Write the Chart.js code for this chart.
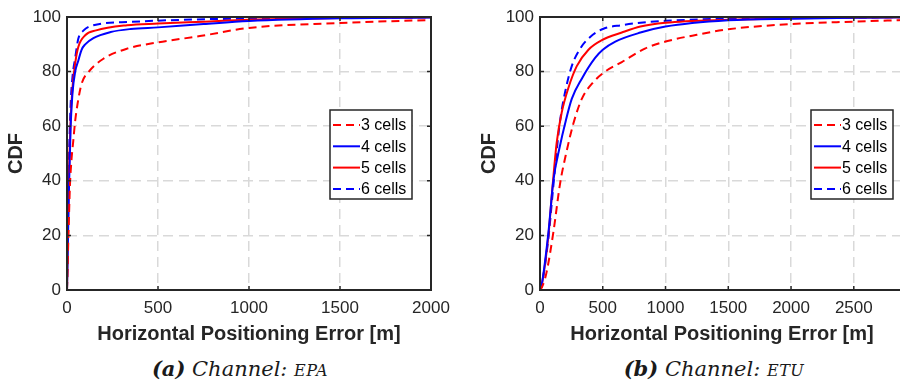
<!DOCTYPE html>
<html>
<head>
<meta charset="utf-8">
<script src="https://cdn.jsdelivr.net/npm/chart.js@4"></script>
<style>
  html, body { margin:0; padding:0; width:900px; height:383px; overflow:hidden; background:#fff; }
  canvas { position:absolute; top:0; }
  .cap { position:absolute; top:356px; font-family:"DejaVu Serif", "Liberation Serif", serif; font-style:italic; font-size:21px; color:#1a1a1a; white-space:nowrap; transform:translateX(-50%); }
  .cap b { font-weight:bold; }
  .cap .sc { font-size:16px; letter-spacing:0.5px; }
</style>
</head>
<body>
<canvas id="c1" width="450" height="350" style="left:0px"></canvas>
<canvas id="c2" width="450" height="350" style="left:473px"></canvas>
<div class="cap" style="left:240px"><b>(a)</b> Channel: <span class="sc">EPA</span></div>
<div class="cap" style="left:714px"><b>(b)</b> Channel: <span class="sc">ETU</span></div>
<script>
// ---- data ----
const seriesLabels = ['3 cells', '4 cells', '5 cells', '6 cells'];
const yTicks = [0, 20, 40, 60, 80, 100];
const xTicksEPA = [0, 500, 1000, 1500, 2000];
const xTicksETU = [0, 500, 1000, 1500, 2000, 2500];

// Channel EPA
const epa3X = [0, 8, 16, 25, 35, 45, 60, 80, 120, 200, 330, 500, 730, 1000, 1500, 2000];
const epa3Y = [0, 20, 38, 48, 55, 62, 69, 75.5, 80, 84.7, 88.4, 90.7, 93, 96, 97.8, 98.9];
const epa4X = [0, 10, 20, 30, 45, 62, 80, 100, 145, 240, 350, 500, 750, 1000, 1500, 2000];
const epa4Y = [0, 35, 60, 72, 80, 84, 88, 90, 92.3, 94.5, 95.6, 96.2, 97.4, 98.5, 99.5, 99.8];
const epa5X = [0, 10, 20, 30, 45, 62, 100, 160, 330, 500, 750, 1000, 1500, 2000];
const epa5Y = [0, 40, 62, 74, 83, 89, 93.3, 95.1, 97, 97.6, 98.3, 99, 99.6, 99.9];
const epa6X = [0, 10, 20, 30, 45, 62, 90, 145, 350, 700, 1000, 1500, 2000];
const epa6Y = [0, 45, 68, 78, 85, 92, 95, 97, 98.2, 99.1, 99.4, 99.7, 99.9];

// Channel ETU
const etu3X = [0, 15, 50, 106, 160, 213, 266, 333, 426, 519, 652, 840, 1000, 1250, 1500, 2000, 2500, 2900];
const etu3Y = [0, 1, 6, 21, 39, 51, 61, 70, 76.2, 80, 83.5, 88.5, 91, 93.5, 95.5, 97.4, 98.3, 98.9];
const etu4X = [0, 10, 67, 106, 160, 200, 253, 333, 439, 500, 600, 800, 1000, 1500, 2000, 2500, 2900];
const etu4Y = [0, 1, 21, 40, 53, 61, 70, 77.4, 85, 88, 91, 94.3, 96.5, 98.8, 99.4, 99.7, 99.9];
const etu5X = [0, 10, 67, 100, 133, 173, 226, 293, 386, 493, 652, 800, 1000, 1500, 2000, 2900];
const etu5Y = [0, 1, 20, 38, 54, 65, 74, 82, 88, 91.5, 94.3, 96.5, 97.9, 99, 99.5, 99.9];
const etu6X = [0, 10, 67, 100, 133, 160, 200, 253, 320, 400, 506, 652, 863, 1000, 1500, 2000, 2900];
const etu6Y = [0, 1, 19, 35, 51, 62, 72.5, 82, 88.4, 92.7, 95.7, 97, 98.2, 98.6, 99.4, 99.7, 99.9];

const xMaxEPA = 2000;
const xMaxETU = 2900;

// ---- styling ----
const RED = '#ff0000', BLUE = '#0000ff', AX = '#262626';
const styles = [
  { color: RED, dash: [8, 5] },
  { color: BLUE, dash: [] },
  { color: RED, dash: [] },
  { color: BLUE, dash: [8, 5] }
];
Chart.defaults.font.family = '"Liberation Sans", Arial, Helvetica, sans-serif';
Chart.defaults.color = AX;

function pts(xs, ys) { return xs.map((x, i) => ({ x: x, y: ys[i] })); }

function makeDatasets(list) {
  return list.map((d, i) => ({
    label: seriesLabels[i],
    data: pts(d[0], d[1]),
    borderColor: styles[i].color,
    backgroundColor: styles[i].color,
    borderDash: styles[i].dash,
    borderWidth: 2,
    pointRadius: 0,
    fill: false,
    cubicInterpolationMode: 'monotone'
  }));
}

const framePlugin = {
  id: 'frame',
  afterDatasetsDraw(chart, args, opts) {
    const { ctx, chartArea: a, scales } = chart;
    ctx.save();
    ctx.strokeStyle = AX;
    ctx.lineWidth = 1.5;
    ctx.setLineDash([]);
    const tl = 4;
    scales.x.ticks.forEach(t => {
      const px = scales.x.getPixelForValue(t.value);
      ctx.beginPath();
      ctx.moveTo(px, a.bottom); ctx.lineTo(px, a.bottom - tl);
      ctx.moveTo(px, a.top); ctx.lineTo(px, a.top + tl);
      ctx.stroke();
    });
    scales.y.ticks.forEach(t => {
      const py = scales.y.getPixelForValue(t.value);
      ctx.beginPath();
      ctx.moveTo(a.left, py); ctx.lineTo(a.left + tl, py);
      ctx.moveTo(a.right, py); ctx.lineTo(a.right - tl, py);
      ctx.stroke();
    });
    ctx.lineWidth = 2;
    ctx.strokeRect(a.left, a.top, a.right - a.left, a.bottom - a.top);

    // legend box
    const bw = 82, bh = 89;
    const bx = a.right - opts.rightGap - bw, by = opts.top;
    ctx.fillStyle = '#fff';
    ctx.fillRect(bx, by, bw, bh);
    ctx.lineWidth = 1.5;
    ctx.strokeRect(bx, by, bw, bh);
    ctx.font = '16px "Liberation Sans", Arial, sans-serif';
    ctx.textBaseline = 'middle';
    ctx.textAlign = 'left';
    chart.data.datasets.forEach((ds, i) => {
      const yy = by + 15 + i * 21.3;
      ctx.strokeStyle = ds.borderColor;
      ctx.lineWidth = 2;
      ctx.setLineDash(ds.borderDash);
      ctx.beginPath();
      ctx.moveTo(bx + 3, yy); ctx.lineTo(bx + 30, yy);
      ctx.stroke();
      ctx.setLineDash([]);
      ctx.fillStyle = '#000';
      ctx.fillText(ds.label, bx + 31, yy + 1);
    });
    ctx.restore();
  }
};

function makeChart(id, dsList, xTicks, xMax, legendGap) {
  return new Chart(document.getElementById(id), {
    type: 'line',
    data: { datasets: makeDatasets(dsList) },
    options: {
      responsive: false,
      animation: false,
      events: [],
      layout: { padding: { top: 17, right: 19, left: 0, bottom: 0 } },
      plugins: {
        legend: { display: false },
        tooltip: { enabled: false },
        frame: { rightGap: legendGap, top: 110 }
      },
      scales: {
        x: {
          type: 'linear',
          min: 0, max: xMax,
          afterBuildTicks: s => { s.ticks = xTicks.map(v => ({ value: v })); },
          afterFit: s => { s.height = 60; s.paddingLeft = 0; s.paddingRight = 0; },
          grid: { color: '#d9d9d9', lineWidth: 1.5, drawTicks: false },
          border: { display: false, dash: [10, 6] },
          ticks: { font: { size: 17 }, padding: 8, color: AX, maxRotation: 0, autoSkip: false, callback: v => String(v) },
          title: { display: true, text: 'Horizontal Positioning Error [m]', font: { size: 20, weight: 'bold' }, color: AX, padding: { top: 0, bottom: 4 } }
        },
        y: {
          type: 'linear',
          min: 0, max: 100,
          afterBuildTicks: s => { s.ticks = yTicks.map(v => ({ value: v })); },
          afterFit: s => { s.width = 67; s.paddingTop = 0; s.paddingBottom = 0; },
          grid: { color: '#d9d9d9', lineWidth: 1.5, drawTicks: false },
          border: { display: false, dash: [10, 6] },
          ticks: { font: { size: 17 }, padding: 6, color: AX, callback: v => String(v) },
          title: { display: true, text: 'CDF', font: { size: 20, weight: 'bold' }, color: AX, padding: { top: 4, bottom: 0 } }
        }
      }
    },
    plugins: [framePlugin]
  });
}

makeChart('c1', [[epa3X, epa3Y], [epa4X, epa4Y], [epa5X, epa5Y], [epa6X, epa6Y]], xTicksEPA, xMaxEPA, 19);
makeChart('c2', [[etu3X, etu3Y], [etu4X, etu4Y], [etu5X, etu5Y], [etu6X, etu6Y]], xTicksETU, xMaxETU, 11);
</script>
</body>
</html>
